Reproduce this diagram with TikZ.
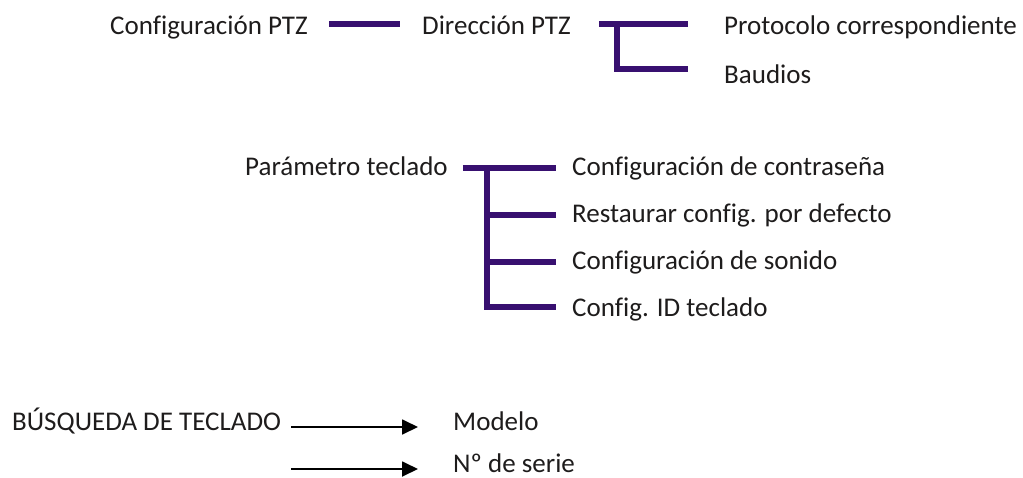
\documentclass[tikz,border=0pt]{standalone}
\usepackage{fontspec}
\setmainfont{Carlito}[Ligatures=NoCommon]
\usetikzlibrary{arrows.meta}
\definecolor{barpurple}{RGB}{56,16,112}
\definecolor{txtgray}{RGB}{30,28,28}
\tikzset{
  lbl/.style={anchor=base west, inner sep=0pt, text=txtgray, font=\fontsize{27}{32}\selectfont},
  bar/.style={draw=barpurple, line width=5.5pt, line cap=butt, line join=miter},
  arr/.style={draw=black, line width=1.8pt, -{Triangle[length=16pt,width=15pt]}}
}
\begin{document}
\begin{tikzpicture}[x=1pt,y=-1pt]
\useasboundingbox (0,0) rectangle (1023,477);
% row 1
\node[lbl] (conf) at (110,34) {Configuración PTZ};
\node[lbl] (dir) at (422,34) {Dirección PTZ};
\node[lbl] (proto) at (724,34) {Protocolo correspondiente};
\node[lbl] (baud) at (724,83) {Baudios};
\coordinate (c1a) at (329,24);
\coordinate (c1b) at (400,24);
\coordinate (j1) at (599,24);
\coordinate (j1v) at (617,24);
\draw[bar] (c1a) -- (c1b);
\draw[bar] (j1) -- ([xshift=-36pt,yshift=10pt]proto.base west);
\draw[bar] (j1v) |- ([xshift=-36pt,yshift=14pt]baud.base west);
% row 2
\node[lbl] (param) at (245,175) {Parámetro teclado};
\node[lbl] (k1) at (572,175) {Configuración de contraseña};
\node[lbl] (k2) at (572,222) {Restaurar config. por defecto};
\node[lbl] (k3) at (572,269) {Configuración de sonido};
\node[lbl] (k4) at (572,316) {Config. ID teclado};
\coordinate (jp) at (487,168);
\coordinate (jp2) at (487,215);
\coordinate (jp3) at (487,262);
\draw[bar] ([xshift=15pt,yshift=7pt]param.base east) -- ([xshift=-16pt,yshift=7pt]k1.base west);
\draw[bar] (jp) |- ([xshift=-16pt,yshift=9pt]k4.base west);
\draw[bar] (jp2) -- ([xshift=-16pt,yshift=7pt]k2.base west);
\draw[bar] (jp3) -- ([xshift=-16pt,yshift=7pt]k3.base west);
% row 3
\node[lbl] (busq) at (12,430) {BÚSQUEDA DE TECLADO};
\node[lbl] (mod) at (453,430) {Modelo};
\node[lbl] (serie) at (453,472) {Nº de serie};
\coordinate (a2) at (291,469);
\draw[arr] ([xshift=10pt,yshift=3pt]busq.base east) -- ([xshift=-35pt,yshift=3pt]mod.base west);
\draw[arr] (a2) -- ([xshift=-35pt,yshift=3pt]serie.base west);
\end{tikzpicture}
\end{document}
